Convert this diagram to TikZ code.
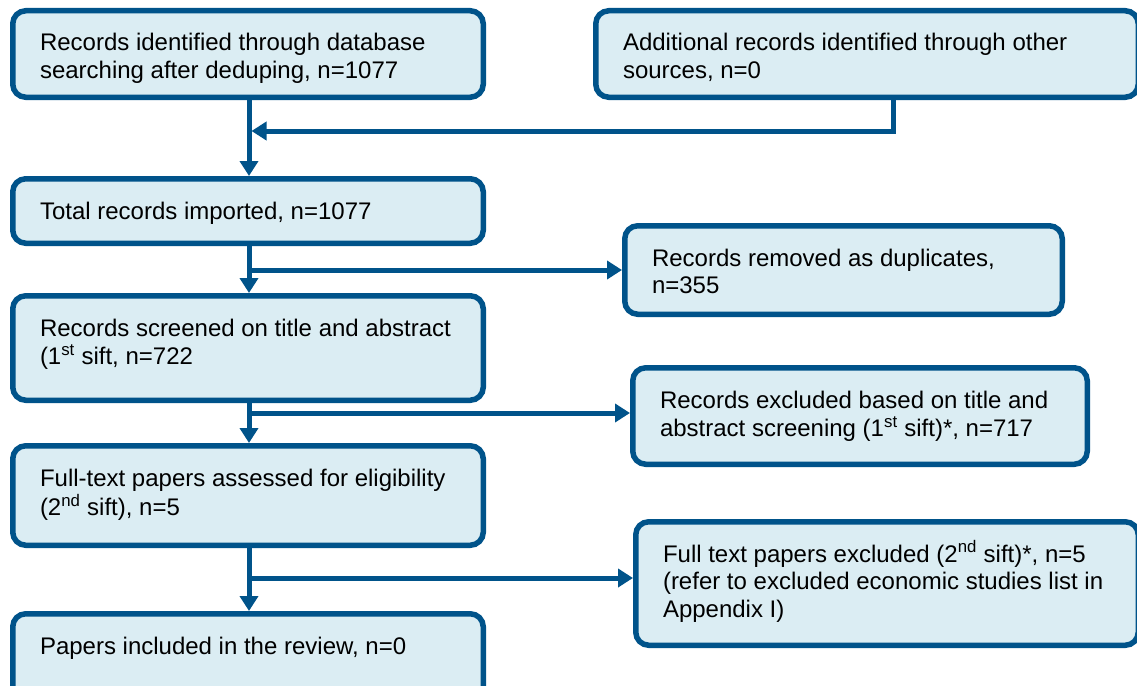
\documentclass[tikz,border=0pt]{standalone}
\usepackage{fontspec}
\setmainfont{Liberation Sans}
\usetikzlibrary{arrows.meta}
\definecolor{flowline}{RGB}{0,83,138}
\definecolor{flowfill}{RGB}{219,237,243}
% Text block of a box: fixed inner size, first baseline 43pt below the outer top
\newcommand\flowtext[3]{%
  \parbox[c][#2][t]{#1}{\rule{0pt}{40.25pt}\hspace*{27.25pt}%
    \begin{tabular}[t]{@{}l@{}}#3\end{tabular}}}
% A box given by its outer edges: name, left, top, right, bottom, lines
\newcommand\flowbox[6]{%
  \node[stagebox] (#1) at ({(#2+#4)/2},{(#3+#5)/2})
    {\flowtext{\dimexpr #4pt-#2pt-5.5pt\relax}{\dimexpr #5pt-#3pt-5.5pt\relax}{#6}};}
\tikzset{
  stagebox/.style={draw=flowline, fill=flowfill, line width=5.5pt,
    rounded corners=13pt, inner sep=0pt, shape=rectangle,
    font=\fontsize{24}{27.5}\selectfont},
  conn/.style={draw=flowline, line width=5pt,
    -{Triangle[width=18pt,length=15pt]}},
}
\begin{document}
\begin{tikzpicture}[x=1pt,y=-1pt]
\useasboundingbox (0,0) rectangle (1137,685);
\clip (0,0) rectangle (1137,685);

% main column
\flowbox{b1}{10}{8}{486}{100}{Records identified through database\\searching after deduping, n=1077}
\flowbox{b2}{10}{176}{486}{246}{Total records imported, n=1077}
\flowbox{b3}{10}{293}{486}{403}{Records screened on title and abstract\\(1\textsuperscript{st} sift, n=722}
\flowbox{b4}{10}{443}{486}{548}{Full-text papers assessed for eligibility\\(2\textsuperscript{nd} sift), n=5}
\flowbox{b5}{10}{611}{486}{705}{Papers included in the review, n=0}

% side boxes
\flowbox{ra}{593}{8}{1141}{100}{Additional records identified through other\\sources, n=0}
\flowbox{dup}{622}{223}{1065}{317}{Records removed as duplicates,\\n=355}
\flowbox{ex1}{630}{365}{1090}{467}{Records excluded based on title and\\abstract screening (1\textsuperscript{st} sift)*, n=717}
\flowbox{ex2}{633}{519}{1141}{648}{Full text papers excluded (2\textsuperscript{nd} sift)*, n=5\\(refer to excluded economic studies list in\\Appendix I)}

% connector points
\coordinate (tk) at (249,0);
\coordinate (jx) at (893,131);
\coordinate (jin) at (251.5,131);
\coordinate (br1) at (249,270);
\coordinate (br2) at (249,413);
\coordinate (br3) at (249,578);

% flow down the main column
\draw[conn] (b1.south -| tk) -- (b2.north -| tk);
\draw[conn] (ra.south -| jx) |- (jin);
\draw[conn] (b2.south -| tk) -- (b3.north -| tk);
\draw[conn] (b3.south -| tk) -- (b4.north -| tk);
\draw[conn] (b4.south -| tk) -- (b5.north -| tk);

% exclusions branching off
\draw[conn] (br1) -- (dup.west |- br1);
\draw[conn] (br2) -- (ex1.west |- br2);
\draw[conn] (br3) -- (ex2.west |- br3);
\end{tikzpicture}
\end{document}
